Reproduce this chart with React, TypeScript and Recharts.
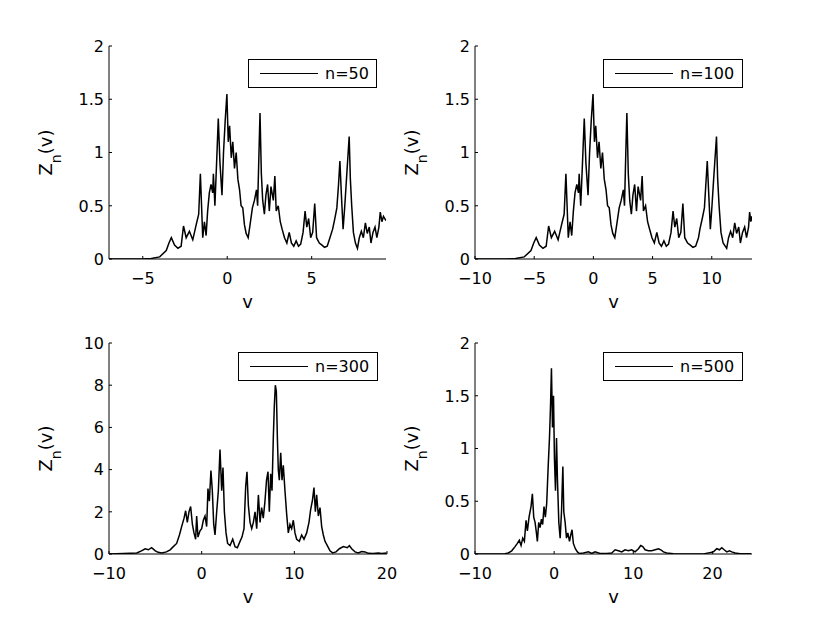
import React from 'react';
import { LineChart, Line, XAxis, YAxis } from 'recharts';

const FONT = '"DejaVu Sans", "Liberation Sans", sans-serif';

// ---- n = 50 ----
const v50 = [-7, -5, -4.5, -4, -3.61, -3.45, -3.31, -3.12, -2.92, -2.73, -2.59, -2.43, -2.24, -2.04, -1.84, -1.69, -1.59, -1.45, -1.35, -1.25, -1.16, -1.06, -0.96, -0.86, -0.82, -0.73, -0.63, -0.53, -0.43, -0.31, -0.22, -0.12, -0.02, 0.06, 0.14, 0.24, 0.33, 0.43, 0.53, 0.63, 0.73, 0.82, 0.92, 1.02, 1.12, 1.24, 1.35, 1.49, 1.61, 1.73, 1.8, 1.88, 1.94, 2.02, 2.1, 2.2, 2.29, 2.39, 2.49, 2.59, 2.73, 2.82, 2.9, 3.02, 3.14, 3.25, 3.39, 3.53, 3.67, 3.8, 3.94, 4.08, 4.22, 4.35, 4.49, 4.61, 4.71, 4.82, 4.94, 5.06, 5.18, 5.29, 5.45, 5.61, 5.76, 5.92, 6.08, 6.24, 6.37, 6.49, 6.59, 6.67, 6.76, 6.86, 6.96, 7.06, 7.14, 7.22, 7.29, 7.37, 7.47, 7.59, 7.71, 7.82, 7.94, 8.06, 8.18, 8.29, 8.41, 8.51, 8.63, 8.75, 8.86, 8.98, 9.06, 9.16, 9.25, 9.4];
const z50 = [0, 0, 0.005, 0.02, 0.08, 0.15, 0.2, 0.13, 0.1, 0.12, 0.31, 0.2, 0.26, 0.18, 0.32, 0.42, 0.8, 0.2, 0.35, 0.22, 0.45, 0.62, 0.7, 0.62, 0.8, 0.5, 0.9, 1.32, 0.9, 0.6, 1.0, 1.3, 1.55, 1.1, 1.25, 0.95, 1.1, 0.85, 1.0, 0.75, 0.65, 0.5, 0.48, 0.32, 0.24, 0.2, 0.32, 0.48, 0.55, 0.65, 0.5, 1.0, 1.37, 0.8, 0.55, 0.42, 0.6, 0.7, 0.45, 0.68, 0.55, 0.78, 0.45, 0.5, 0.35, 0.28, 0.2, 0.15, 0.25, 0.15, 0.12, 0.17, 0.12, 0.14, 0.25, 0.45, 0.3, 0.38, 0.2, 0.25, 0.52, 0.2, 0.15, 0.13, 0.11, 0.12, 0.2, 0.28, 0.38, 0.48, 0.7, 0.92, 0.6, 0.28, 0.5, 0.75, 0.95, 1.15, 0.75, 0.5, 0.25, 0.15, 0.1, 0.2, 0.26, 0.2, 0.34, 0.24, 0.3, 0.15, 0.25, 0.3, 0.2, 0.3, 0.44, 0.35, 0.4, 0.36];

// ---- n = 100 ----
const v100 = [-10, -7.3, -6.57, -5.84, -5.27, -5.04, -4.83, -4.56, -4.26, -3.99, -3.78, -3.55, -3.27, -2.98, -2.69, -2.47, -2.32, -2.12, -1.97, -1.83, -1.69, -1.55, -1.4, -1.26, -1.2, -1.07, -0.92, -0.77, -0.63, -0.45, -0.32, -0.18, -0.03, 0.09, 0.2, 0.35, 0.48, 0.63, 0.77, 0.92, 1.07, 1.2, 1.34, 1.49, 1.64, 1.81, 1.97, 2.18, 2.35, 2.53, 2.63, 2.74, 2.83, 2.95, 3.07, 3.21, 3.34, 3.49, 3.64, 3.78, 3.99, 4.12, 4.23, 4.41, 4.58, 4.75, 4.95, 5.15, 5.36, 5.55, 5.75, 5.96, 6.16, 6.35, 6.56, 6.73, 6.88, 7.04, 7.21, 7.39, 7.56, 7.72, 7.96, 8.19, 8.41, 8.64, 8.88, 9.0, 9.2, 9.38, 9.5, 9.62, 9.75, 9.88, 10.02, 10.16, 10.28, 10.4, 10.5, 10.62, 10.78, 10.96, 11.26, 11.42, 11.59, 11.77, 11.94, 12.1, 12.28, 12.42, 12.6, 12.78, 12.94, 13.11, 13.2, 13.3, 13.36, 13.4];
const z100 = [0, 0, 0.005, 0.02, 0.08, 0.15, 0.2, 0.13, 0.1, 0.12, 0.31, 0.2, 0.26, 0.18, 0.32, 0.42, 0.8, 0.2, 0.35, 0.22, 0.45, 0.62, 0.7, 0.62, 0.8, 0.5, 0.9, 1.32, 0.9, 0.6, 1.0, 1.3, 1.55, 1.1, 1.25, 0.95, 1.1, 0.85, 1.0, 0.75, 0.65, 0.5, 0.48, 0.32, 0.24, 0.2, 0.32, 0.48, 0.55, 0.65, 0.5, 1.0, 1.37, 0.8, 0.55, 0.42, 0.6, 0.7, 0.45, 0.68, 0.55, 0.78, 0.45, 0.5, 0.35, 0.28, 0.2, 0.15, 0.25, 0.15, 0.12, 0.17, 0.12, 0.14, 0.25, 0.45, 0.3, 0.38, 0.2, 0.25, 0.52, 0.2, 0.15, 0.13, 0.11, 0.12, 0.2, 0.28, 0.38, 0.48, 0.7, 0.92, 0.6, 0.28, 0.5, 0.75, 0.95, 1.15, 0.75, 0.5, 0.25, 0.15, 0.1, 0.2, 0.26, 0.2, 0.34, 0.24, 0.3, 0.15, 0.25, 0.3, 0.2, 0.3, 0.44, 0.35, 0.4, 0.36];

// ---- n = 300 ----
const v300 = [-10, -8.45, -7.0, -6.5, -6.1, -5.75, -5.4, -5.0, -4.7, -4.3, -3.8, -3.4, -3.06, -2.7, -2.4, -2.16, -1.9, -1.73, -1.55, -1.37, -1.19, -1.0, -0.83, -0.65, -0.54, -0.4, -0.18, 0, 0.18, 0.36, 0.54, 0.68, 0.83, 1.0, 1.15, 1.3, 1.44, 1.62, 1.8, 1.98, 2.16, 2.3, 2.45, 2.63, 2.8, 3.06, 3.35, 3.6, 3.85, 4.14, 4.35, 4.57, 4.75, 4.89, 5.04, 5.22, 5.4, 5.58, 5.76, 5.94, 6.12, 6.3, 6.47, 6.65, 6.83, 7.0, 7.16, 7.3, 7.45, 7.59, 7.73, 7.84, 7.95, 8.06, 8.17, 8.27, 8.38, 8.53, 8.67, 8.81, 8.99, 9.17, 9.35, 9.53, 9.71, 9.89, 10.07, 10.25, 10.54, 10.79, 11.04, 11.33, 11.58, 11.76, 11.94, 12.12, 12.27, 12.41, 12.59, 12.77, 12.95, 13.13, 13.31, 13.56, 13.85, 14.14, 14.5, 14.86, 15.29, 15.72, 15.94, 16.19, 16.55, 16.9, 17.27, 17.63, 17.99, 18.5, 19.06, 19.42, 19.96];
const z300 = [0, 0.02, 0.05, 0.15, 0.25, 0.2, 0.3, 0.15, 0.08, 0.05, 0.1, 0.2, 0.35, 0.5, 0.9, 1.3, 1.7, 2.05, 1.5, 2.0, 2.25, 1.4, 1.0, 0.7, 1.8, 0.8, 1.1, 1.2, 1.6, 1.8, 1.3, 3.1, 2.5, 3.95, 3.0, 1.4, 0.9, 2.0, 3.0, 4.95, 3.0, 4.1, 2.0, 1.0, 0.5, 0.4, 0.7, 0.35, 0.3, 0.6, 0.8, 1.2, 3.2, 3.9, 2.3, 1.5, 1.2, 1.5, 2.0, 1.2, 2.8, 1.5, 2.2, 1.7, 2.5, 3.5, 3.9, 2.0, 3.8, 3.0, 5.5, 7.0, 8.0, 7.7, 5.5, 4.0, 3.5, 4.8, 3.5, 4.2, 3.0, 1.9, 1.0, 1.4, 1.2, 1.6, 1.0, 0.7, 0.6, 0.9, 0.7, 1.0, 1.5, 2.1, 2.5, 3.15, 2.0, 2.8, 1.8, 2.2, 1.3, 0.9, 0.6, 0.4, 0.15, 0.05, 0.1, 0.25, 0.35, 0.3, 0.4, 0.25, 0.1, 0.05, 0.12, 0.1, 0.03, 0.02, 0.05, 0.02, 0.05];

// ---- n = 500 ----
const v500 = [-10, -7.26, -6.2, -5.8, -5.36, -4.94, -4.65, -4.4, -4.18, -3.97, -3.76, -3.55, -3.38, -3.17, -2.92, -2.75, -2.58, -2.41, -2.24, -2.12, -1.95, -1.78, -1.61, -1.45, -1.28, -1.11, -0.94, -0.77, -0.59, -0.46, -0.34, -0.21, -0.08, 0.04, 0.17, 0.3, 0.42, 0.59, 0.76, 0.93, 1.1, 1.22, 1.39, 1.56, 1.73, 1.94, 2.1, 2.26, 2.43, 2.68, 2.94, 3.19, 3.7, 4.33, 4.75, 5.17, 5.8, 6.65, 7.28, 7.7, 8.12, 8.54, 8.96, 9.38, 9.8, 10.23, 10.65, 10.94, 11.2, 11.49, 11.91, 12.33, 12.76, 13.18, 13.47, 13.81, 14.23, 15.07, 16.76, 18.87, 20.13, 20.55, 20.89, 21.18, 21.48, 21.82, 22.15, 22.45, 22.87, 23.5, 24.89];
const z500 = [0, 0, 0.003, 0.01, 0.03, 0.07, 0.1, 0.13, 0.08, 0.15, 0.12, 0.32, 0.22, 0.35, 0.45, 0.57, 0.35, 0.3, 0.2, 0.12, 0.3, 0.25, 0.33, 0.28, 0.45, 0.35, 0.48, 0.8, 1.1, 1.4, 1.76, 1.2, 1.5, 0.9, 0.6, 1.1, 0.7, 0.3, 0.15, 0.4, 0.83, 0.4, 0.3, 0.15, 0.2, 0.12, 0.18, 0.23, 0.1, 0.05, 0.02, 0.005, 0.01, 0.02, 0.005, 0.02, 0.005, 0.005, 0.01, 0.04, 0.03, 0.02, 0.04, 0.03, 0.04, 0.02, 0.05, 0.08, 0.07, 0.04, 0.03, 0.03, 0.04, 0.05, 0.04, 0.02, 0.01, 0.003, 0.001, 0.001, 0.02, 0.05, 0.04, 0.06, 0.04, 0.02, 0.03, 0.02, 0.01, 0.003, 0.002];

// ---- axes ----
const xTicks50 = [-5, 0, 5];
const xTicks100 = [-10, -5, 0, 5, 10];
const xTicks300 = [-10, 0, 10, 20];
const xTicks500 = [-10, 0, 10, 20];
const yTicksSmall = [0, 0.5, 1, 1.5, 2];
const yTicksLarge = [0, 2, 4, 6, 8, 10];
const labels = ['n=50', 'n=100', 'n=300', 'n=500'];

const fmt = (t: number) => String(t).replace('-', '\u2212');

type PanelProps = {
  px: number; py: number; pw: number; ph: number;
  v: number[]; z: number[];
  xDomain: [number, number]; xTicks: number[];
  yDomain: [number, number]; yTicks: number[];
  label: string; legendW: number; legendTop: number;
};

function Panel(p: PanelProps) {
  const ML = 20, YW = 60, MT = 30, XH = 30, MB = 40, MR = 30;
  const PL = ML + YW;
  const PT = MT;
  const W = p.pw + PL + MR;
  const H = p.ph + MT + XH + MB;
  const PB = PT + p.ph;
  const PR = PL + p.pw;
  const left = p.px - PL;
  const top = p.py - PT;
  const data = p.v.map((x, i) => ({ v: x, z: p.z[i] }));

  const XTick = (props: any) => {
    const c = props.x;
    return (
      <g>
        <line x1={c} x2={c} y1={PB} y2={PB - 3} stroke="#000" strokeWidth={1} />
        <text x={c} y={PB + 25} textAnchor="middle" fontSize={16} fontFamily={FONT} fill="#000">
          {fmt(props.payload.value)}
        </text>
      </g>
    );
  };
  const YTick = (props: any) => {
    const c = props.y;
    return (
      <g>
        <line x1={PL} x2={PL + 3} y1={c} y2={c} stroke="#000" strokeWidth={1} />
        <text x={PL - 5} y={c + 5.8} textAnchor="end" fontSize={16} fontFamily={FONT} fill="#000">
          {fmt(props.payload.value)}
        </text>
      </g>
    );
  };
  const cy = PT + p.ph / 2;
  const YLabel = () => (
    <text
      x={23}
      y={cy}
      transform={`rotate(-90, 23, ${cy})`}
      textAnchor="middle"
      fontSize={18}
      fontFamily={FONT}
      fill="#000"
    >
      Z<tspan dy={9} fontSize={14}>n</tspan><tspan dy={-9}>(v)</tspan>
    </text>
  );
  const XLabel = () => (
    <text x={PL + p.pw / 2} y={PB + 49} textAnchor="middle" fontSize={18} fontFamily={FONT} fill="#000">
      v
    </text>
  );

  return (
    <div style={{ position: 'absolute', left, top, width: W, height: H }}>
      <LineChart width={W} height={H} data={data} margin={{ top: MT, right: MR, bottom: MB, left: ML }}>
        <XAxis
          dataKey="v"
          type="number"
          domain={p.xDomain}
          ticks={p.xTicks}
          interval={0}
          allowDataOverflow
          height={XH}
          tickLine={false}
          axisLine={{ stroke: '#000', strokeWidth: 1 }}
          tick={XTick}
          label={XLabel}
        />
        <YAxis
          type="number"
          domain={p.yDomain}
          ticks={p.yTicks}
          interval={0}
          allowDataOverflow
          width={YW}
          tickLine={false}
          axisLine={{ stroke: '#000', strokeWidth: 1 }}
          tick={YTick}
          label={YLabel}
        />
        <Line
          type="linear"
          dataKey="z"
          stroke="#000"
          strokeWidth={1.5}
          strokeLinejoin="miter"
          dot={false}
          activeDot={false}
          isAnimationActive={false}
        />
      </LineChart>
      <div
        style={{
          position: 'absolute',
          left: PR - 9 - p.legendW,
          top: p.legendTop,
          width: p.legendW,
          height: 29,
          boxSizing: 'border-box',
          border: '1px solid #000',
          background: '#fff',
          fontFamily: FONT,
          fontSize: 16,
        }}
      >
        <div style={{ position: 'absolute', left: 11, top: 13, width: 58, height: 0, borderTop: '1px solid #000' }} />
        <div style={{ position: 'absolute', left: 76, top: 0, height: 27, lineHeight: '27px', whiteSpace: 'nowrap', color: '#000' }}>
          {p.label}
        </div>
      </div>
    </div>
  );
}

export default function App() {
  return (
    <div style={{ position: 'absolute', left: 0, top: 0, width: 830, height: 625, background: '#fff', overflow: 'hidden' }}>
      <Panel px={109} py={46} pw={277} ph={213} v={v50} z={z50} xDomain={[-7, 9.4]} xTicks={xTicks50}
        yDomain={[0, 2]} yTicks={yTicksSmall} label={labels[0]} legendW={129} legendTop={43} />
      <Panel px={475} py={46} pw={277} ph={213} v={v100} z={z100} xDomain={[-10, 13.4]} xTicks={xTicks100}
        yDomain={[0, 2]} yTicks={yTicksSmall} label={labels[1]} legendW={140} legendTop={43} />
      <Panel px={109} py={343} pw={278} ph={211} v={v300} z={z300} xDomain={[-10, 20]} xTicks={xTicks300}
        yDomain={[0, 10]} yTicks={yTicksLarge} label={labels[2]} legendW={140} legendTop={39} />
      <Panel px={475} py={343} pw={277} ph={211} v={v500} z={z500} xDomain={[-10, 25]} xTicks={xTicks500}
        yDomain={[0, 2]} yTicks={yTicksSmall} label={labels[3]} legendW={140} legendTop={39} />
    </div>
  );
}
